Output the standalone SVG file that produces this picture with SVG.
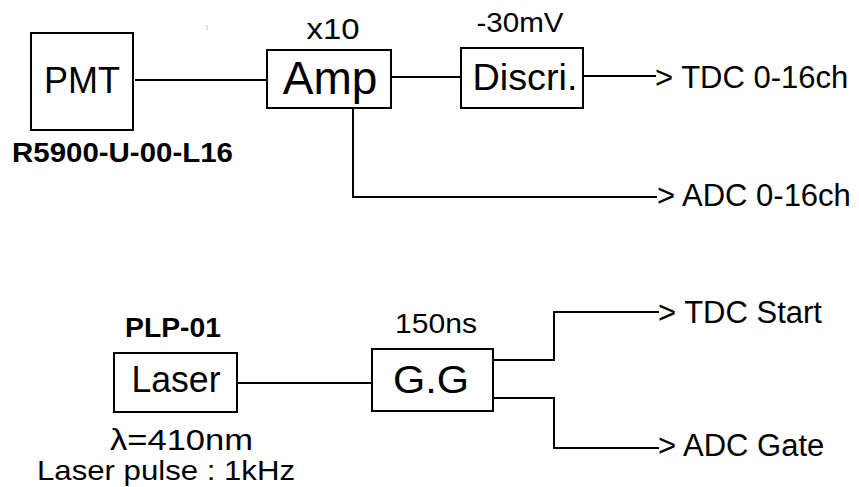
<svg xmlns="http://www.w3.org/2000/svg" width="859" height="487" viewBox="0 0 859 487">
<style>
.box{fill:#fff;stroke:#000;stroke-width:2}
.ln{fill:none;stroke:#000;stroke-width:2}
text{font-family:"Liberation Sans",Arial,sans-serif;fill:#000}
.b{font-weight:bold}
.m{text-anchor:middle}
</style>
<rect width="859" height="487" fill="#fff"/>
<line x1="207" y1="25" x2="207" y2="30" stroke="#bbb" stroke-width="1"/>
<g id="connectors">
<polyline class="ln" points="135,80 267,80"/>
<polyline class="ln" points="391,77 461,77"/>
<polyline class="ln" points="583,76 656,76"/>
<polyline class="ln" points="353,108 353,197 657,197"/>
<polyline class="ln" points="238,383 372,383"/>
<polyline class="ln" points="493,360 554,360 554,312 659,312"/>
<polyline class="ln" points="493,398 554,398 554,448 659,448"/>
</g>
<g id="pmt">
<rect class="box" x="31" y="33" width="102" height="97"/>
<text class="m" x="82" y="93" font-size="36">PMT</text>
<text class="b" x="12" y="162" font-size="27" textLength="221" lengthAdjust="spacingAndGlyphs">R5900-U-00-L16</text>
</g>
<g id="amp">
<rect class="box" x="267" y="50" width="124" height="58"/>
<text class="m" x="330" y="94" font-size="46">Amp</text>
<text class="m" x="333" y="39" font-size="30" textLength="53" lengthAdjust="spacingAndGlyphs">x10</text>
</g>
<g id="discri">
<rect class="box" x="461" y="48" width="122" height="60"/>
<text class="m" x="525" y="90" font-size="36" textLength="105" lengthAdjust="spacingAndGlyphs">Discri.</text>
<text class="m" x="520" y="32" font-size="28" textLength="87" lengthAdjust="spacingAndGlyphs">-30mV</text>
</g>
<g id="tdc-out">
<text x="655" y="88" font-size="31">&gt; TDC 0-16ch</text>
</g>
<g id="adc-out">
<text x="657" y="206" font-size="31">&gt; ADC 0-16ch</text>
</g>
<g id="laser">
<rect class="box" x="114" y="353" width="123" height="59"/>
<text class="m" x="176" y="392" font-size="37" textLength="89" lengthAdjust="spacingAndGlyphs">Laser</text>
<text class="b" x="125" y="337" font-size="27" textLength="96" lengthAdjust="spacingAndGlyphs">PLP-01</text>
<text x="110" y="450" font-size="30" textLength="143" lengthAdjust="spacingAndGlyphs">λ=410nm</text>
<text x="37" y="480" font-size="28" textLength="258" lengthAdjust="spacingAndGlyphs">Laser pulse : 1kHz</text>
</g>
<g id="gg">
<rect class="box" x="372" y="349" width="121" height="62"/>
<text class="m" x="431" y="393" font-size="39" textLength="76" lengthAdjust="spacingAndGlyphs">G.G</text>
<text class="m" x="436" y="333" font-size="27" textLength="82" lengthAdjust="spacingAndGlyphs">150ns</text>
</g>
<g id="tdc-start">
<text x="658" y="323" font-size="31">&gt; TDC Start</text>
</g>
<g id="adc-gate">
<text x="658" y="456" font-size="31">&gt; ADC Gate</text>
</g>
</svg>
